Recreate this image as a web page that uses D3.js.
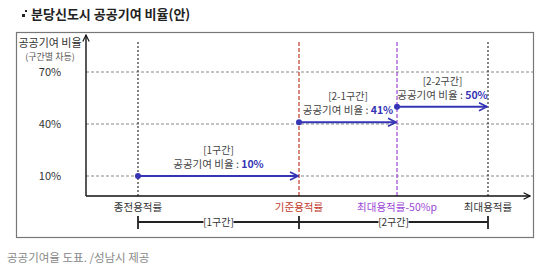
<!DOCTYPE html>
<html>
<head>
<meta charset="utf-8">
<script src="https://cdn.jsdelivr.net/npm/d3@7"></script>
<style>
body { margin: 0; background: #fff; }
svg { font-family: "Noto Sans CJK KR", "Noto Sans", sans-serif; }
</style>
</head>
<body>
<script>
// boundary names along the x axis and their relative position (0-100)
var stops = ["종전용적률", "기준용적률", "최대용적률-50%p", "최대용적률"];
var stopPos = [0, 46, 74, 100];
var stopColor = ["#333", "#c0392b", "#9b45d6", "#333"];
var stopDash = ["2,2", "4,2", "4,2", "2,2"];

// y ticks (%)
var yTicks = [10, 40, 70];

// segments: label, start stop, end stop, ratio
var segNames = ["[1구간]", "[2-1구간]", "[2-2구간]"];
var segFrom = [0, 1, 2];
var segTo = [1, 2, 3];
var segRate = [10, 41, 50];

// bracket below axis
var bracketNames = ["[1구간]", "[2구간]"];
var bracketFrom = [0, 1];
var bracketTo = [1, 3];

var W = 559, H = 270;
var blue = "#3434b4";

var x = d3.scaleLinear().domain([0, 100]).range([138, 488]);
var y = d3.scaleLinear().domain([10, 70]).range([176, 72]);
var axisX = 86, axisY = 196, gridEnd = 533;

var svg = d3.select("body").append("svg")
	.attr("width", W).attr("height", H);

var defs = svg.append("defs");
defs.append("marker").attr("id", "arr")
	.attr("viewBox", "0 0 10 10").attr("refX", 9).attr("refY", 5)
	.attr("markerWidth", 5).attr("markerHeight", 5)
	.attr("markerUnits", "strokeWidth").attr("orient", "auto")
	.append("path").attr("d", "M1,1 L9,5 L1,9")
	.attr("fill", "none").attr("stroke", blue).attr("stroke-width", 1.6);
defs.append("marker").attr("id", "axarr")
	.attr("viewBox", "0 0 10 10").attr("refX", 9).attr("refY", 5)
	.attr("markerWidth", 8).attr("markerHeight", 8)
	.attr("markerUnits", "userSpaceOnUse").attr("orient", "auto")
	.append("path").attr("d", "M1,1 L9,5 L1,9")
	.attr("fill", "none").attr("stroke", "#111").attr("stroke-width", 1.4);

// title
svg.append("rect").attr("x", 22).attr("y", 14).attr("width", 3).attr("height", 3).attr("fill", "#222");
svg.append("rect").attr("x", 25).attr("y", 10).attr("width", 2).attr("height", 2).attr("fill", "#222");
svg.append("text").attr("x", 31).attr("y", 19)
	.attr("font-size", "13px").attr("font-weight", "bold").attr("fill", "#222")
	.text("분당신도시 공공기여 비율(안)");

// frame
svg.append("rect").attr("x", 16.5).attr("y", 32.5).attr("width", 517).attr("height", 205)
	.attr("fill", "none").attr("stroke", "#777").attr("stroke-width", 1.2);

// y label
svg.append("text").attr("x", 50).attr("y", 47).attr("text-anchor", "middle")
	.attr("font-size", "11px").attr("fill", "#333").text("공공기여 비율");
svg.append("text").attr("x", 50).attr("y", 60).attr("text-anchor", "middle")
	.attr("font-size", "9px").attr("fill", "#555").text("(구간별 차등)");

// grid
svg.append("g").selectAll("line").data(yTicks).enter().append("line")
	.attr("x1", axisX).attr("x2", gridEnd)
	.attr("y1", function(d) { return y(d); }).attr("y2", function(d) { return y(d); })
	.attr("stroke", "#888").attr("stroke-width", 1).attr("stroke-dasharray", "3,2");

svg.append("g").selectAll("text").data(yTicks).enter().append("text")
	.attr("x", 50).attr("y", function(d) { return y(d) + 4; })
	.attr("text-anchor", "middle").attr("font-size", "11px").attr("fill", "#333")
	.text(function(d) { return d + "%"; });

// vertical boundaries
svg.append("g").selectAll("line").data(stops).enter().append("line")
	.attr("x1", function(d, i) { return x(stopPos[i]); })
	.attr("x2", function(d, i) { return x(stopPos[i]); })
	.attr("y1", 42).attr("y2", axisY)
	.attr("stroke", function(d, i) { return stopColor[i]; })
	.attr("stroke-width", 1.2)
	.attr("stroke-dasharray", function(d, i) { return stopDash[i]; });

// axes
svg.append("line").attr("x1", axisX).attr("y1", axisY).attr("x2", axisX).attr("y2", 35)
	.attr("stroke", "#111").attr("stroke-width", 1.4).attr("marker-end", "url(#axarr)");
svg.append("line").attr("x1", axisX).attr("y1", axisY).attr("x2", 530).attr("y2", axisY)
	.attr("stroke", "#111").attr("stroke-width", 1.4).attr("marker-end", "url(#axarr)");

// x labels
svg.append("g").selectAll("text").data(stops).enter().append("text")
	.attr("x", function(d, i) { return x(stopPos[i]); }).attr("y", 211)
	.attr("text-anchor", "middle").attr("font-size", "10.5px")
	.attr("fill", function(d, i) { return stopColor[i]; })
	.text(function(d) { return d; });

// segment arrows
var seg = svg.append("g").selectAll("g").data(segNames).enter().append("g");
seg.append("line")
	.attr("x1", function(d, i) { return x(stopPos[segFrom[i]]); })
	.attr("x2", function(d, i) { return x(stopPos[segTo[i]]) - 1; })
	.attr("y1", function(d, i) { return y(segRate[i]); })
	.attr("y2", function(d, i) { return y(segRate[i]); })
	.attr("stroke", blue).attr("stroke-width", 2).attr("marker-end", "url(#arr)");
seg.append("circle")
	.attr("cx", function(d, i) { return x(stopPos[segFrom[i]]); })
	.attr("cy", function(d, i) { return y(segRate[i]); })
	.attr("r", 3).attr("fill", blue);
seg.append("text")
	.attr("x", function(d, i) { return (x(stopPos[segFrom[i]]) + x(stopPos[segTo[i]])) / 2; })
	.attr("y", function(d, i) { return y(segRate[i]) - 22; })
	.attr("text-anchor", "middle").attr("font-size", "10px").attr("fill", "#444")
	.text(function(d) { return d; });
var rt = seg.append("text")
	.attr("x", function(d, i) { return (x(stopPos[segFrom[i]]) + x(stopPos[segTo[i]])) / 2; })
	.attr("y", function(d, i) { return y(segRate[i]) - 8; })
	.attr("text-anchor", "middle").attr("font-size", "10.5px").attr("fill", "#444");
rt.append("tspan").text("공공기여 비율 : ");
rt.append("tspan").attr("fill", blue).attr("font-weight", "bold")
	.text(function(d, i) { return segRate[i] + "%"; });

// bracket
var by = 222;
svg.append("line").attr("x1", x(stopPos[0])).attr("x2", x(stopPos[3]))
	.attr("y1", by).attr("y2", by).attr("stroke", "#222").attr("stroke-width", 1.8);
svg.append("g").selectAll("line").data([0, 1, 3]).enter().append("line")
	.attr("x1", function(d) { return x(stopPos[d]); }).attr("x2", function(d) { return x(stopPos[d]); })
	.attr("y1", by - 6).attr("y2", by + 7).attr("stroke", "#222").attr("stroke-width", 1.8);
var bl = svg.append("g").selectAll("g").data(bracketNames).enter().append("g");
bl.append("rect")
	.attr("x", function(d, i) { return (x(stopPos[bracketFrom[i]]) + x(stopPos[bracketTo[i]])) / 2 - 15; })
	.attr("y", by - 6).attr("width", 30).attr("height", 12).attr("fill", "#fff");
bl.append("text")
	.attr("x", function(d, i) { return (x(stopPos[bracketFrom[i]]) + x(stopPos[bracketTo[i]])) / 2; })
	.attr("y", by + 4).attr("text-anchor", "middle").attr("font-size", "10px").attr("fill", "#333")
	.text(function(d) { return d; });

// caption
svg.append("text").attr("x", 7).attr("y", 262)
	.attr("font-size", "11.5px").attr("fill", "#888")
	.text("공공기여율 도표. /성남시 제공");
</script>
</body>
</html>
